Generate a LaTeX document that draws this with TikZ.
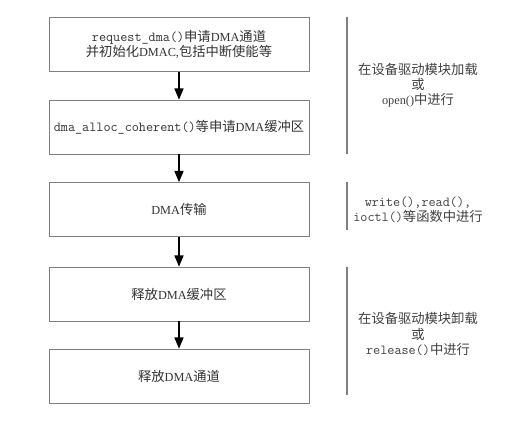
\documentclass[tikz,border=0pt]{standalone}
\usepackage{fontspec}
\setmainfont{Liberation Serif}
\setmonofont[Scale=1.12]{Latin Modern Mono}
\newfontfamily\cjk[Scale=1.08]{Noto Sans CJK SC}
\newcommand{\zh}[1]{{\cjk #1}}
\usepackage{tikz}
\usetikzlibrary{arrows,calc}

\tikzset{
  stepbox/.style={draw=black!50, line width=0.7pt, minimum width=7.8cm,
    minimum height=1.62cm, align=center, text=black!80,
    font=\fontsize{10.5}{13}\selectfont},
  flow/.style={-triangle 45, line width=1.2pt},
  phase/.style={draw=black!50, line width=1.3pt},
  note/.style={align=center, text=black!75, font=\fontsize{10.5}{13}\selectfont}
}

\begin{document}
\begin{tikzpicture}[x=0.03cm, y=-0.03cm]
\useasboundingbox (0,0) rectangle (528,421);

% flow steps
\node[stepbox] (req) at (179,44.5) {\texttt{request\_dma()}\zh{申请}DMA\zh{通道}\\ \zh{并初始化}DMAC,\zh{包括中断使能等}};
\node[stepbox] (alloc) at (179,127) {\texttt{dma\_alloc\_coherent()}\zh{等申请}DMA\zh{缓冲区}};
\node[stepbox] (xfer) at (179,209.5) {DMA\zh{传输}};
\node[stepbox] (freebuf) at (179,294) {\zh{释放}DMA\zh{缓冲区}};
\node[stepbox] (freech) at (179,376) {\zh{释放}DMA\zh{通道}};

\draw[flow] (req) -- (alloc);
\draw[flow] (alloc) -- (xfer);
\draw[flow] (xfer) -- (freebuf);
\draw[flow] (freebuf) -- (freech);

% phases
\coordinate (sep) at (347,0);
\draw[phase] (req.north -| sep) -- (alloc.south -| sep);
\draw[phase] (xfer.north -| sep) -- ($(xfer.south -| sep)+(0,-7)$);
\draw[phase] (freebuf.north -| sep) -- ($(freech.south -| sep)+(0,-8)$);

\node[note] (load) at (418,85) {\zh{在设备驱动模块加载}\\ \zh{或}\\ open()\zh{中进行}};
\node[note] (rw) at (418,210) {\texttt{write(),read(),}\\ \texttt{ioctl()}\zh{等函数中进行}};
\node[note] (unload) at (418,334) {\zh{在设备驱动模块卸载}\\ \zh{或}\\ \texttt{release()}\zh{中进行}};
\end{tikzpicture}
\end{document}
